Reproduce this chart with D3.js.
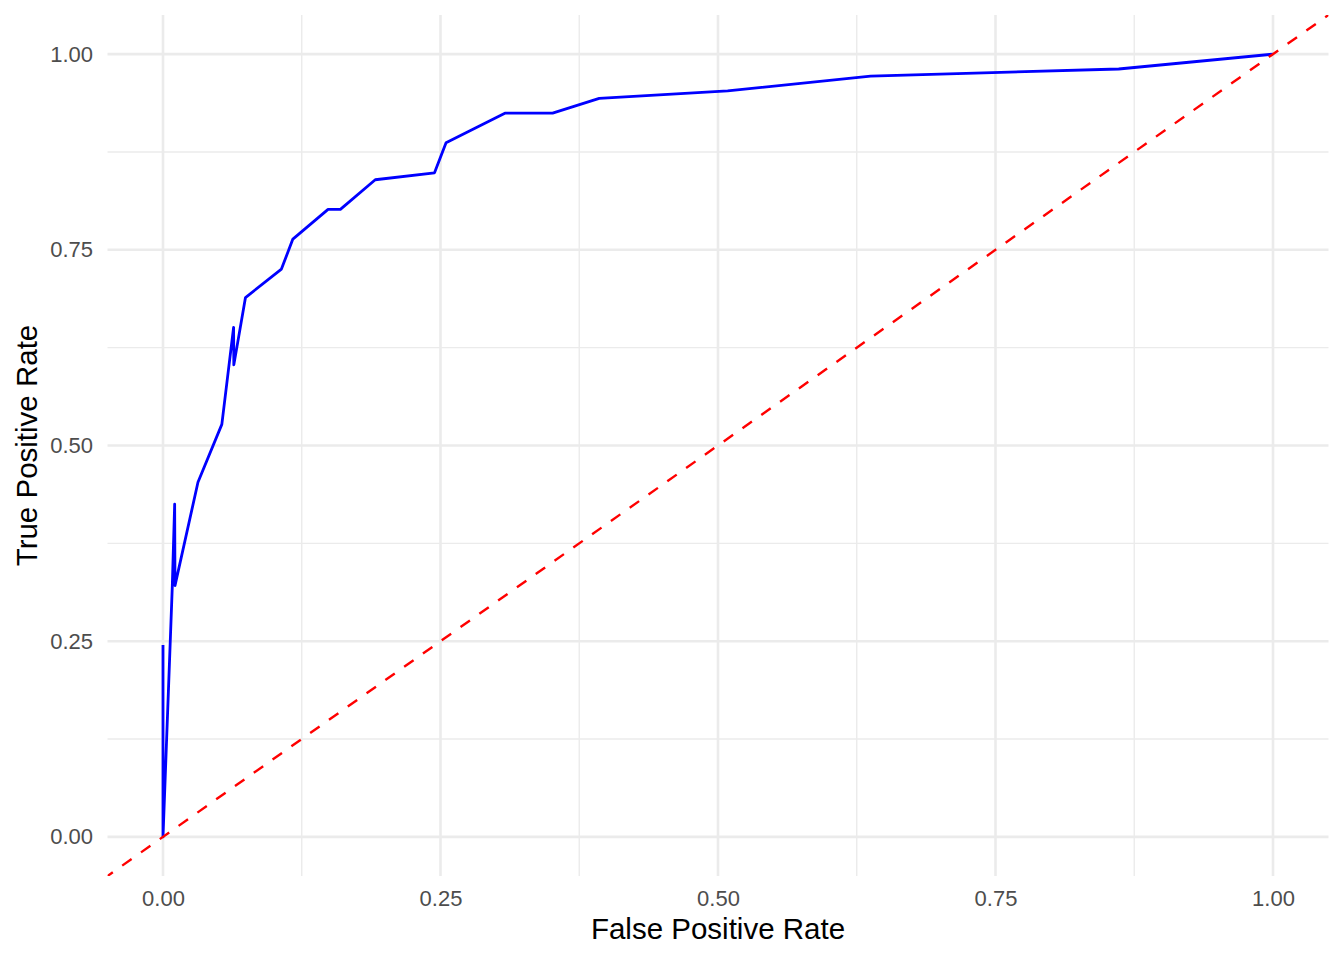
<!DOCTYPE html>
<html>
<head>
<meta charset="utf-8">
<script src="https://cdn.jsdelivr.net/npm/d3@7"></script>
<style>
  body { margin: 0; background: #fff; }
  text { font-family: "Liberation Sans", Arial, Helvetica, sans-serif; }
</style>
</head>
<body>
<div id="chart"></div>
<script>
// ROC curve points (in drawing order)
var fpr = [0, 0, 0.0084, 0.0105, 0.0108, 0.0315, 0.053, 0.0636, 0.0638, 0.0743,
           0.1067, 0.117, 0.1487, 0.1598, 0.1912, 0.2446, 0.255, 0.308, 0.351,
           0.393, 0.5087, 0.6375, 0.861, 1];
var tpr = [0.245, 0, 0.321, 0.425, 0.321, 0.453, 0.527, 0.651, 0.603, 0.689,
           0.7254, 0.7637, 0.8016, 0.8016, 0.8395, 0.8484, 0.8868, 0.9246, 0.9246,
           0.9434, 0.953, 0.972, 0.981, 1];

var majorTicks = [0, 0.25, 0.5, 0.75, 1];
var minorTicks = [0.125, 0.375, 0.625, 0.875];
var tickLabels = ["0.00", "0.25", "0.50", "0.75", "1.00"];

var xTitle = "False Positive Rate";
var yTitle = "True Positive Rate";

function init() {
    var W = 1344, H = 960;
    var left = 107.5, right = 1328.5, top = 15, bottom = 876;

    var svg = d3.select("#chart")
        .append("svg")
        .attr("width", W)
        .attr("height", H);

    var x = d3.scaleLinear().domain([-0.05, 1.05]).range([left, right]);
    var y = d3.scaleLinear().domain([-0.05, 1.05]).range([bottom, top]);

    svg.append("clipPath").attr("id", "panel")
        .append("rect")
        .attr("x", left).attr("y", top)
        .attr("width", right - left).attr("height", bottom - top);

    // grid: minor first, then major
    var grid = svg.append("g");
    minorTicks.forEach(function (t) {
        grid.append("line").attr("x1", x(t)).attr("x2", x(t)).attr("y1", top).attr("y2", bottom)
            .attr("stroke", "#ebebeb").attr("stroke-width", 1.4);
        grid.append("line").attr("x1", left).attr("x2", right).attr("y1", y(t)).attr("y2", y(t))
            .attr("stroke", "#ebebeb").attr("stroke-width", 1.4);
    });
    majorTicks.forEach(function (t) {
        grid.append("line").attr("x1", x(t)).attr("x2", x(t)).attr("y1", top).attr("y2", bottom)
            .attr("stroke", "#ebebeb").attr("stroke-width", 2.6);
        grid.append("line").attr("x1", left).attr("x2", right).attr("y1", y(t)).attr("y2", y(t))
            .attr("stroke", "#ebebeb").attr("stroke-width", 2.6);
    });

    var plot = svg.append("g").attr("clip-path", "url(#panel)");

    // ROC line
    var data = fpr.map(function (d, i) { return { x: d, y: tpr[i] }; });
    var line = d3.line()
        .x(d => x(d.x))
        .y(d => y(d.y));

    plot.append("path")
        .datum(data)
        .attr("fill", "none")
        .attr("stroke", "#0000ff")
        .attr("stroke-width", 2.8)
        .attr("stroke-linejoin", "round")
        .attr("d", line);

    // diagonal reference line
    plot.append("line")
        .attr("x1", x(-0.05)).attr("y1", y(-0.05))
        .attr("x2", x(1.05)).attr("y2", y(1.05))
        .attr("stroke", "#ff0000")
        .attr("stroke-width", 2.4)
        .attr("stroke-dasharray", "11.5,11.5")
        .attr("stroke-dashoffset", 5);

    // axes
    var xAxis = d3.axisBottom(x).tickValues(majorTicks)
        .tickFormat((d, i) => tickLabels[i]).tickSize(0).tickPadding(14);
    var yAxis = d3.axisLeft(y).tickValues(majorTicks)
        .tickFormat((d, i) => tickLabels[i]).tickSize(0).tickPadding(14.5);

    var gx = svg.append("g")
        .attr("transform", "translate(0," + bottom + ")")
        .call(xAxis);
    var gy = svg.append("g")
        .attr("transform", "translate(" + left + ",0)")
        .call(yAxis);

    [gx, gy].forEach(function (g) {
        g.select(".domain").remove();
        g.selectAll("text")
            .attr("fill", "#4d4d4d")
            .style("font-size", "22px")
            .style("font-family", "'Liberation Sans', Arial, Helvetica, sans-serif");
    });

    // axis titles
    svg.append("text")
        .attr("x", (left + right) / 2)
        .attr("y", 939)
        .attr("text-anchor", "middle")
        .attr("fill", "#000")
        .style("font-size", "29.5px")
        .text(xTitle);

    svg.append("text")
        .attr("transform", "translate(37," + ((top + bottom) / 2) + ") rotate(-90)")
        .attr("text-anchor", "middle")
        .attr("fill", "#000")
        .style("font-size", "29.5px")
        .text(yTitle);
}

init();
</script>
</body>
</html>
